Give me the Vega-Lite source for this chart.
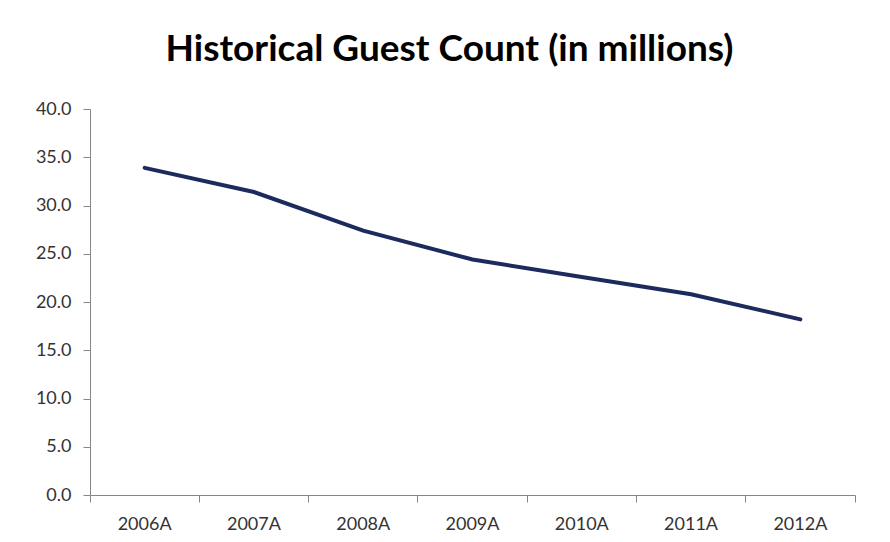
{
  "$schema": "https://vega.github.io/schema/vega-lite/v6.json",
  "width": 765,
  "height": 386,
  "autosize": "none",
  "padding": {"left": 90, "top": 109, "right": 35, "bottom": 47},
  "background": "white",
  "title": {
    "text": "Historical Guest Count (in millions)",
    "font": "Lato",
    "fontSize": 37,
    "fontWeight": "bold",
    "color": "#000000",
    "anchor": "middle",
    "dx": -23,
    "offset": 31
  },
  "config": {
    "view": {"stroke": null},
    "axis": {
      "labelFont": "Lato",
      "labelFontSize": 18,
      "labelColor": "#333333",
      "domainColor": "#868686",
      "tickColor": "#868686",
      "domainWidth": 1,
      "tickWidth": 1,
      "tickSize": 7,
      "grid": false,
      "title": null
    }
  },
  "data": {
    "values": [
      {"year": "2006A", "guests": 33.9},
      {"year": "2007A", "guests": 31.4},
      {"year": "2008A", "guests": 27.4},
      {"year": "2009A", "guests": 24.4},
      {"year": "2010A", "guests": 22.6},
      {"year": "2011A", "guests": 20.8},
      {"year": "2012A", "guests": 18.2}
    ]
  },
  "mark": {"type": "line", "color": "#1c2a5e", "strokeWidth": 4, "strokeCap": "round"},
  "encoding": {
    "x": {
      "field": "year",
      "type": "ordinal",
      "scale": {"type": "band", "paddingInner": 0, "paddingOuter": 0},
      "axis": {"labelAngle": 0, "labelPadding": 13, "bandPosition": 1, "tickExtra": true}
    },
    "y": {
      "field": "guests",
      "type": "quantitative",
      "scale": {"domain": [0, 40]},
      "axis": {"values": [0, 5, 10, 15, 20, 25, 30, 35, 40], "format": ".1f", "labelPadding": 12}
    }
  }
}
